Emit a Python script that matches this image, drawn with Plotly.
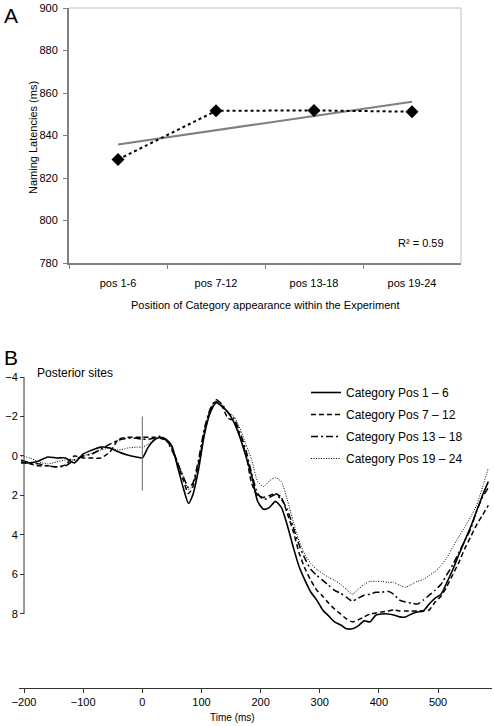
import plotly.graph_objects as go

W, H = 494, 726

# ---------------- Panel A data ----------------
categories = ["pos 1-6", "pos 7-12", "pos 13-18", "pos 19-24"]
naming_latency = [828.7, 851.6, 851.8, 851.2]
trend_ends = [835.8, 855.9]          # linear trend at first / last category
r_squared_label = "R² = 0.59"
y_ticks_a = [780, 800, 820, 840, 860, 880, 900]

# ---------------- Panel B data ----------------
time_ms = [-205, -190, -175, -160, -145, -130, -115, -100, -85, -70, -55, -40, -25, -10,
           0, 10, 20, 30, 40, 50, 60, 70, 78, 85, 95, 105, 115, 125, 135, 145, 155, 165,
           175, 185, 195, 205, 215, 225, 235, 245, 255, 265, 275, 285, 295, 305, 315, 325,
           335, 345, 355, 365, 375, 385, 395, 405, 415, 425, 435, 445, 455, 465, 475, 485,
           495, 505, 515, 525, 535, 545, 555, 565, 575, 585]

pos_1_6 = [0.35, 0.35, 0.25, 0.05, 0.1, 0.1, 0.35, -0.1, -0.3, -0.45, -0.4, -0.2, -0.05, 0.05,
           0.1, -0.45, -0.8, -0.95, -0.85, -0.5, 0.6, 1.7, 2.4, 2.0, 0.7, -1.1, -2.2, -2.7, -2.5, -2.2, -1.7, -0.95,
           0.0, 1.0, 2.3, 2.7, 2.6, 2.3, 2.6, 3.5, 4.6, 5.6, 6.3, 6.9, 7.3, 7.8, 8.1, 8.4,
           8.55, 8.75, 8.75, 8.6, 8.35, 8.4, 8.05, 8.0, 8.0, 8.05, 8.15, 8.15, 8.0, 7.9, 7.85, 7.5,
           7.2, 7.0, 6.4, 5.75, 5.0, 4.3, 3.6, 2.8, 2.0, 1.3]

pos_7_12 = [0.3, 0.4, 0.5, 0.5, 0.55, 0.45, 0.0, 0.1, 0.1, 0.1, -0.2, -0.85, -0.95, -0.95,
            -0.95, -0.95, -0.95, -0.9, -0.8, -0.4, 0.4, 1.3, 1.9, 1.6, 0.4, -1.2, -2.3, -2.75, -2.5, -1.9, -1.8, -1.0,
            -0.1, 1.4, 2.0, 2.1, 2.0, 1.9, 2.1, 2.9, 3.8, 4.9, 5.7, 6.3, 6.8, 7.1, 7.45, 7.75,
            8.0, 8.25, 8.4, 8.3, 8.15, 8.0, 7.95, 7.9, 7.85, 7.8, 7.85, 7.85, 7.85, 7.85, 7.85, 7.8,
            7.4, 7.1, 6.6, 6.0, 5.4, 4.7, 4.1, 3.5, 3.0, 2.5]

pos_13_18 = [0.2, 0.35, 0.4, 0.5, 0.55, 0.5, 0.2, 0.0, -0.1, -0.35, -0.6, -0.8, -0.9, -0.9,
             -0.85, -0.85, -0.9, -1.0, -0.8, -0.3, 0.4, 1.1, 1.6, 1.4, 0.2, -1.4, -2.4, -2.85, -2.6, -2.2, -1.9, -1.2,
             -0.3, 0.9, 1.9, 2.2, 2.1, 1.95, 2.2, 2.7, 3.6, 4.5, 5.2, 5.75, 6.05, 6.3, 6.55, 6.8,
             6.95, 7.15, 7.35, 7.2, 7.05, 7.0, 6.9, 6.9, 6.85, 7.0, 7.3, 7.4, 7.45, 7.5, 7.3, 7.05,
             6.8, 6.5, 6.0, 5.5, 4.9, 4.3, 3.7, 2.8, 2.1, 1.6]

pos_19_24 = [0.0, 0.1, 0.3, 0.4, 0.3, 0.2, 0.2, 0.0, -0.15, -0.3, -0.4, -0.3, -0.4, -0.45,
             -0.45, -0.6, -0.85, -0.95, -0.85, -0.4, 0.3, 1.1, 1.7, 1.5, 0.4, -1.3, -2.4, -2.85, -2.6, -2.2, -2.0, -1.4,
             -0.6, 0.2, 1.3, 1.55, 1.25, 1.1, 1.3, 2.2, 3.3, 4.3, 5.0, 5.45, 5.75, 5.95, 6.15, 6.3,
             6.5, 6.75, 7.0, 6.75, 6.5, 6.35, 6.35, 6.35, 6.4, 6.4, 6.55, 6.65, 6.5, 6.35, 6.25, 6.05,
             5.85, 5.55, 5.15, 4.6, 4.1, 3.6, 3.1, 2.5, 1.6, 0.6]

series_names = ["Category Pos 1 – 6", "Category Pos 7 – 12",
                "Category Pos 13 – 18", "Category Pos 19 – 24"]
series_values = [pos_1_6, pos_7_12, pos_13_18, pos_19_24]
series_dash = ["solid", "5px,3px", "7px,3px,2px,3px", "1px,1.5px"]
series_width = [1.6, 1.5, 1.5, 1.0]

x_ticks_b = [-200, -100, 0, 100, 200, 300, 400, 500]
y_ticks_b = [-4, -2, 0, 2, 4, 6, 8]
onset_line = [-2, 1.75]   # extent of the stimulus-onset marker (µV)

FONT = "Liberation Sans, Arial, sans-serif"


def fx(p):
    return p / W


def fy(p):
    return 1 - p / H


fig = go.Figure()

# Panel A
fig.add_trace(go.Scatter(
    x=[categories[0], categories[-1]], y=trend_ends, mode="lines",
    line=dict(color="#7f7f7f", width=2), xaxis="x", yaxis="y", showlegend=False,
    hoverinfo="skip"))
fig.add_trace(go.Scatter(
    x=categories, y=naming_latency, mode="lines+markers",
    line=dict(color="black", width=2, dash="dot"),
    marker=dict(symbol="diamond", size=10, color="black"),
    xaxis="x", yaxis="y", showlegend=False))

# Panel B
for name, vals, dash, w in zip(series_names, series_values, series_dash, series_width):
    fig.add_trace(go.Scatter(
        x=time_ms, y=vals, mode="lines", name=name,
        line=dict(color="black", width=w, dash=dash, shape="spline", smoothing=0.6),
        xaxis="x2", yaxis="y2", legendgroup=name))

# axis geometry of panel B
bx0, bx1 = 19, 492
t_range = [-208.5, 591.2]
y_axis_pos = fx(bx0) + (x_ticks_b[0] - t_range[0]) / (t_range[1] - t_range[0]) * (fx(bx1) - fx(bx0))

fig.update_layout(
    width=W, height=H,
    margin=dict(l=0, r=0, t=0, b=0, autoexpand=False),
    paper_bgcolor="white", plot_bgcolor="white",
    font=dict(family=FONT, size=11, color="black"),
    xaxis=dict(domain=[fx(69), fx(461)], type="category", range=[-0.5, 3.5],
               categoryorder="array", categoryarray=categories,
               tickson="boundaries", ticks="outside", ticklen=4, tickcolor="#808080",
               showline=True, linecolor="#808080", linewidth=2, showgrid=False,
               zeroline=False, anchor="y", ticklabelstandoff=9, automargin=False,
               tickfont=dict(size=11)),
    yaxis=dict(domain=[fy(263), fy(8)], range=[780, 900], tickvals=y_ticks_a,
               ticks="outside", ticklen=4, tickcolor="#808080", ticklabelstandoff=3,
               showline=True, linecolor="#808080", linewidth=2, showgrid=False,
               zeroline=False, anchor="x", automargin=False, tickfont=dict(size=11)),
    xaxis2=dict(domain=[fx(bx0), fx(bx1)], range=t_range, tickvals=x_ticks_b,
                ticks="outside", ticklen=4, tickcolor="#333333",
                showline=True, linecolor="#333333", linewidth=1, showgrid=False,
                zeroline=False, anchor="y2", automargin=False, tickfont=dict(size=11)),
    yaxis2=dict(domain=[fy(688), fy(377)], range=[11.75, -4], tickvals=y_ticks_b,
                ticks="outside", ticklen=4, tickcolor="#333333",
                showline=False, showgrid=False, zeroline=False, automargin=False,
                anchor="free", position=y_axis_pos, tickfont=dict(size=11)),
    legend=dict(x=fx(306), y=fy(378), xanchor="left", yanchor="top",
                bgcolor="rgba(0,0,0,0)", font=dict(size=12), tracegroupgap=3,
                traceorder="grouped"),
    shapes=[
        # light frame on top/right of panel A
        dict(type="line", xref="x domain", yref="y domain", x0=0, x1=1, y0=1, y1=1,
             line=dict(color="#c0c0c0", width=1)),
        dict(type="line", xref="x domain", yref="y domain", x0=1, x1=1, y0=0, y1=1,
             line=dict(color="#c0c0c0", width=1)),
        # y axis line of panel B (spans -4 .. 8 only)
        dict(type="line", xref="x2", yref="y2", x0=x_ticks_b[0], x1=x_ticks_b[0],
             y0=y_ticks_b[0], y1=y_ticks_b[-1], line=dict(color="#333333", width=1)),
        # stimulus onset marker
        dict(type="line", xref="x2", yref="y2", x0=0, x1=0,
             y0=onset_line[0], y1=onset_line[1], line=dict(color="#666666", width=1)),
    ],
    annotations=[
        dict(text="A", x=fx(2), y=fy(15), xref="paper", yref="paper", xanchor="left",
             yanchor="middle", showarrow=False, font=dict(size=21)),
        dict(text="Naming Latencies (ms)", x=fx(33), y=fy(138), xref="paper", yref="paper",
             xanchor="center", yanchor="middle",
             textangle=-90, showarrow=False, font=dict(size=11)),
        dict(text="Position of Category appearance within the Experiment", x=fx(265),
             y=fy(305), xref="paper", yref="paper", xanchor="center", yanchor="middle",
             showarrow=False, font=dict(size=11)),
        dict(text=r_squared_label, x=fx(421), y=fy(243), xref="paper", yref="paper",
             xanchor="center", yanchor="middle", showarrow=False, font=dict(size=11)),
        dict(text="B", x=fx(2), y=fy(357), xref="paper", yref="paper", xanchor="left",
             yanchor="middle", showarrow=False, font=dict(size=21)),
        dict(text="Posterior sites", x=fx(35), y=fy(373), xref="paper", yref="paper",
             xanchor="left", yanchor="middle", showarrow=False, font=dict(size=12)),
        dict(text="Time (ms)", x=fx(232), y=fy(717), xref="paper", yref="paper",
             xanchor="center", yanchor="middle", showarrow=False, font=dict(size=10)),
    ],
)

fig.write_html("out.html", config={"displayModeBar": False},
               post_script="document.body.style.margin='0';document.body.style.overflow='hidden';")
